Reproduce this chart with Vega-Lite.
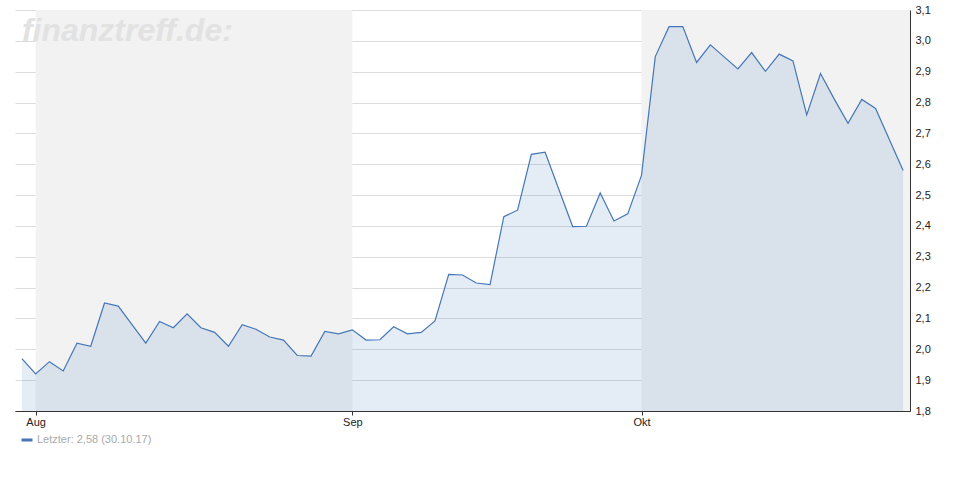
{
  "$schema": "https://vega.github.io/schema/vega-lite/v6.json",
  "width": 895,
  "height": 401,
  "autosize": {"type": "none"},
  "padding": {"left": 15, "top": 10, "right": 60, "bottom": 89},
  "background": "#ffffff",
  "config": {
    "view": {"stroke": null},
    "font": "Liberation Sans",
    "axis": {"labelFont": "Liberation Sans", "labelFontSize": 11, "labelColor": "#222222"},
    "axisX": {
      "labelExpr": "datum.value == '2017-08-01' ? 'Aug' : datum.value == '2017-09-01' ? 'Sep' : 'Okt'",
      "labelAngle": 0, "domainColor": "#333333", "tickColor": "#333333", "tickSize": 4, "labelPadding": 1, "grid": false
    },
    "axisY": {
      "orient": "right",
      "labelExpr": "replace(format(datum.value, '.1f'), '.', ',')",
      "grid": true, "gridColor": "#dcdcdc", "ticks": false, "labelPadding": 5,
      "domainColor": "#333333"
    }
  },
  "data": {"values": [
    {"date": "2017-07-31", "value": 1.97},
    {"date": "2017-08-01", "value": 1.92},
    {"date": "2017-08-02", "value": 1.96},
    {"date": "2017-08-03", "value": 1.93},
    {"date": "2017-08-04", "value": 2.02},
    {"date": "2017-08-07", "value": 2.01},
    {"date": "2017-08-08", "value": 2.15},
    {"date": "2017-08-09", "value": 2.14},
    {"date": "2017-08-10", "value": 2.08},
    {"date": "2017-08-11", "value": 2.02},
    {"date": "2017-08-14", "value": 2.09},
    {"date": "2017-08-15", "value": 2.07},
    {"date": "2017-08-16", "value": 2.115},
    {"date": "2017-08-17", "value": 2.07},
    {"date": "2017-08-18", "value": 2.055},
    {"date": "2017-08-21", "value": 2.01},
    {"date": "2017-08-22", "value": 2.08},
    {"date": "2017-08-23", "value": 2.065},
    {"date": "2017-08-24", "value": 2.04},
    {"date": "2017-08-25", "value": 2.03},
    {"date": "2017-08-28", "value": 1.98},
    {"date": "2017-08-29", "value": 1.978},
    {"date": "2017-08-30", "value": 2.058},
    {"date": "2017-08-31", "value": 2.05},
    {"date": "2017-09-01", "value": 2.063},
    {"date": "2017-09-04", "value": 2.03},
    {"date": "2017-09-05", "value": 2.031},
    {"date": "2017-09-06", "value": 2.073},
    {"date": "2017-09-07", "value": 2.05},
    {"date": "2017-09-08", "value": 2.055},
    {"date": "2017-09-11", "value": 2.092},
    {"date": "2017-09-12", "value": 2.243},
    {"date": "2017-09-13", "value": 2.241},
    {"date": "2017-09-14", "value": 2.215},
    {"date": "2017-09-15", "value": 2.21},
    {"date": "2017-09-18", "value": 2.43},
    {"date": "2017-09-19", "value": 2.451},
    {"date": "2017-09-20", "value": 2.632},
    {"date": "2017-09-21", "value": 2.639},
    {"date": "2017-09-22", "value": 2.518},
    {"date": "2017-09-25", "value": 2.398},
    {"date": "2017-09-26", "value": 2.399},
    {"date": "2017-09-27", "value": 2.507},
    {"date": "2017-09-28", "value": 2.416},
    {"date": "2017-09-29", "value": 2.439},
    {"date": "2017-10-02", "value": 2.564},
    {"date": "2017-10-04", "value": 2.949},
    {"date": "2017-10-05", "value": 3.046},
    {"date": "2017-10-06", "value": 3.046},
    {"date": "2017-10-09", "value": 2.93},
    {"date": "2017-10-10", "value": 2.987},
    {"date": "2017-10-11", "value": 2.948},
    {"date": "2017-10-12", "value": 2.909},
    {"date": "2017-10-13", "value": 2.962},
    {"date": "2017-10-16", "value": 2.901},
    {"date": "2017-10-17", "value": 2.957},
    {"date": "2017-10-18", "value": 2.935},
    {"date": "2017-10-19", "value": 2.76},
    {"date": "2017-10-20", "value": 2.894},
    {"date": "2017-10-23", "value": 2.811},
    {"date": "2017-10-24", "value": 2.733},
    {"date": "2017-10-25", "value": 2.81},
    {"date": "2017-10-26", "value": 2.781},
    {"date": "2017-10-27", "value": 2.68},
    {"date": "2017-10-30", "value": 2.58}
  ]},
  "layer": [
    {
      "data": {"values": [{"start": "2017-08-01", "end": "2017-09-01"}]},
      "mark": {"type": "rect", "color": "#f2f2f2"},
      "encoding": {
        "x": {"field": "start", "type": "ordinal", "scale": {"type": "point", "padding": 0.5}, "title": null,
              "axis": {"values": ["2017-08-01", "2017-09-01", "2017-10-02"]}},
        "x2": {"field": "end"}
      }
    },
    {
      "data": {"values": [{"start": "2017-10-02"}]},
      "mark": {"type": "rect", "color": "#f2f2f2"},
      "encoding": {
        "x": {"field": "start", "type": "ordinal", "title": null,
              "axis": {"values": ["2017-08-01", "2017-09-01", "2017-10-02"]}},
        "x2": {"value": "width"}
      }
    },
    {
      "data": {"values": [{"label": "finanztreff.de:"}]},
      "mark": {"type": "text", "font": "Liberation Sans", "fontStyle": "italic", "fontWeight": "bold", "fontSize": 32, "color": "#e2e2e2", "align": "left", "baseline": "alphabetic", "dy": 31},
      "encoding": {
        "x": {"datum": "2017-07-31", "type": "ordinal", "title": null,
              "axis": {"values": ["2017-08-01", "2017-09-01", "2017-10-02"]}},
        "y": {"datum": 3.1, "type": "quantitative", "title": null},
        "text": {"field": "label"}
      }
    },
    {
      "mark": {"type": "area", "color": "#4a7ebb", "opacity": 0.15},
      "encoding": {
        "x": {"field": "date", "type": "ordinal", "title": null,
              "axis": {"values": ["2017-08-01", "2017-09-01", "2017-10-02"]}},
        "y": {
          "field": "value", "type": "quantitative", "title": null,
          "scale": {"domain": [1.8, 3.1], "nice": false, "zero": false}
        },
        "y2": {"datum": 1.8}
      }
    },
    {
      "mark": {"type": "line", "strokeWidth": 1.2},
      "encoding": {
        "x": {"field": "date", "type": "ordinal", "title": null,
              "axis": {"values": ["2017-08-01", "2017-09-01", "2017-10-02"]}},
        "y": {"field": "value", "type": "quantitative", "title": null},
        "color": {
          "datum": "Letzter: 2,58 (30.10.17)",
          "scale": {"range": ["#4577b8"]},
          "legend": {
            "orient": "bottom", "title": null, "labelColor": "#aaaaaa", "labelFontSize": 11, "labelFont": "Liberation Sans",
            "symbolType": "stroke", "symbolStrokeWidth": 3, "symbolSize": 121, "offset": 6, "padding": 0, "symbolOffset": 5, "labelOffset": 3
          }
        }
      }
    }
  ]
}
